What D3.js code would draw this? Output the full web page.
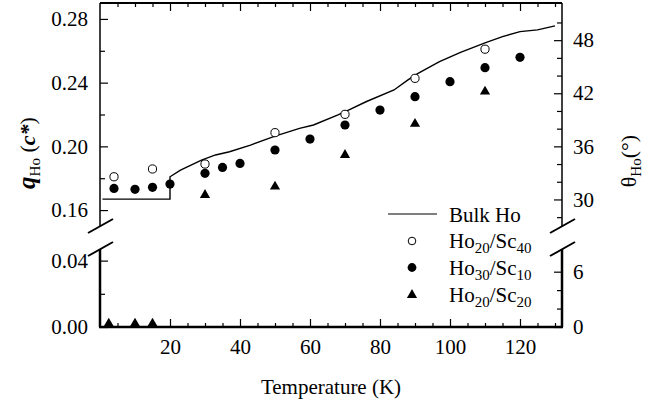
<!DOCTYPE html>
<html>
<head>
<meta charset="utf-8">
<script src="https://cdn.jsdelivr.net/npm/d3@7"></script>
</head>
<body style="margin:0">
<script>
// Bulk Ho line (temperature K, q in c*)
const bulkT = [0.7, 20, 20, 23, 29, 33, 37, 43, 50, 57, 61, 68, 71, 76, 84, 88, 91, 97, 103, 110, 115, 120, 125, 130];
const bulkQ = [0.1669, 0.1669, 0.1809, 0.1851, 0.1914, 0.1946, 0.1966, 0.2008, 0.2064, 0.2113, 0.2134, 0.2197, 0.2228, 0.2280, 0.2354, 0.2417, 0.2460, 0.2532, 0.2590, 0.2650, 0.2689, 0.2720, 0.2731, 0.2756];

// Ho20/Sc40 (open circles)
const sc40T = [4, 15, 30, 50, 70, 90, 110];
const sc40Q = [0.1809, 0.1858, 0.1889, 0.2086, 0.2201, 0.2427, 0.2610];

// Ho30/Sc10 (filled circles)
const sc10T = [4, 10, 15, 20, 30, 35, 40, 50, 60, 70, 80, 90, 100, 110, 120];
const sc10Q = [0.1736, 0.1730, 0.1743, 0.1763, 0.1831, 0.1868, 0.1893, 0.1977, 0.2046, 0.2134, 0.2228, 0.2312, 0.2406, 0.2494, 0.2559];

// Ho20/Sc20 (triangles)
const sc20T = [2.5, 10, 15, 30, 50, 70, 90, 110];
const sc20Q = [0.002, 0.002, 0.002, 0.1695, 0.1747, 0.1946, 0.2141, 0.2344];

// ticks
const xMajor = [20, 40, 60, 80, 100, 120];
const xMinor = [5, 10, 15, 25, 30, 35, 45, 50, 55, 65, 70, 75, 85, 90, 95, 105, 110, 115, 125, 130];
const qUpMajor = [0.16, 0.20, 0.24, 0.28];
const qUpMinor = [0.18, 0.22, 0.26];
const qLowMajor = [0.00, 0.04];
const qLowMinor = [0.02];
const thUpMajor = [30, 36, 42, 48];
const thUpMinor = [28, 32, 34, 38, 40, 44, 46, 50];
const thLowMajor = [0, 6];
const thLowMinor = [2, 4];

const FONT = "Liberation Serif";
const W = 657, H = 407;
const mLeft = 100, mRight = 562, mTop = 3, mBottom = 327;
const upBottom = 226, lowTop = 249;

const svg = d3.select("body").append("svg")
  .attr("width", W).attr("height", H)
  .style("display", "block");

const x = d3.scaleLinear().domain([0, 132]).range([mLeft, mRight]);
const yUp = d3.scaleLinear().domain([0.15, 0.29]).range([upBottom, mTop]);
const yLow = d3.scaleLinear().domain([0, 0.047]).range([mBottom, lowTop]);
// theta = 180 * q
const tUp = d3.scaleLinear().domain([0.15 * 180, 0.29 * 180]).range([upBottom, mTop]);
const tLow = d3.scaleLinear().domain([0, 0.047 * 180]).range([mBottom, lowTop]);

const y = q => q > 0.1 ? yUp(q) : yLow(q);

// serif text helper, same way for every label
const serif = (sel, size) => sel.attr("font-family", FONT).style("font-size", size + "px");

// frame
const frame = svg.append("g").attr("stroke", "#000").attr("fill", "none");
frame.append("line").attr("x1", mLeft).attr("x2", mRight).attr("y1", mTop).attr("y2", mTop).attr("stroke-width", 2);
frame.append("line").attr("x1", mLeft - 1).attr("x2", mRight + 1).attr("y1", mBottom).attr("y2", mBottom).attr("stroke-width", 2.5);
frame.append("line").attr("x1", mLeft).attr("x2", mLeft).attr("y1", mTop).attr("y2", upBottom).attr("stroke-width", 1.5);
frame.append("line").attr("x1", mLeft).attr("x2", mLeft).attr("y1", lowTop).attr("y2", mBottom).attr("stroke-width", 2.5);
frame.append("line").attr("x1", mRight).attr("x2", mRight).attr("y1", mTop).attr("y2", upBottom).attr("stroke-width", 1.5);
frame.append("line").attr("x1", mRight).attr("x2", mRight).attr("y1", lowTop).attr("y2", mBottom).attr("stroke-width", 2.5);

// axis break marks
[[mLeft, upBottom], [mLeft, lowTop], [mRight, upBottom], [mRight, lowTop]].forEach(([cx, cy]) => {
  frame.append("line")
    .attr("x1", cx - 12).attr("y1", cy + 7)
    .attr("x2", cx + 13).attr("y2", cy - 7)
    .attr("stroke-width", 2);
});

function styleAxis(g) {
  g.attr("font-family", null).attr("font-size", null);
  g.select(".domain").remove();
  g.selectAll(".tick line").attr("stroke", "#000").attr("stroke-width", 1.2);
  g.selectAll("text").attr("fill", "#000").call(serif, 21);
}

// x axes (bottom labels, top ticks only)
svg.append("g").attr("transform", `translate(0,${mBottom})`)
  .call(d3.axisBottom(x).tickValues(xMajor).tickSize(-8).tickPadding(12).tickFormat(d3.format("d")))
  .call(styleAxis);
svg.append("g").attr("transform", `translate(0,${mBottom})`)
  .call(d3.axisBottom(x).tickValues(xMinor).tickSize(-4).tickFormat(""))
  .call(styleAxis);
svg.append("g").attr("transform", `translate(0,${mTop})`)
  .call(d3.axisTop(x).tickValues(xMajor).tickSize(-8).tickFormat(""))
  .call(styleAxis);
svg.append("g").attr("transform", `translate(0,${mTop})`)
  .call(d3.axisTop(x).tickValues(xMinor).tickSize(-4).tickFormat(""))
  .call(styleAxis);

// left axes
[[yUp, qUpMajor, qUpMinor], [yLow, qLowMajor, qLowMinor]].forEach(([sc, maj, min]) => {
  svg.append("g").attr("transform", `translate(${mLeft},0)`)
    .call(d3.axisLeft(sc).tickValues(maj).tickSize(-8).tickPadding(12).tickFormat(d3.format(".2f")))
    .call(styleAxis);
  svg.append("g").attr("transform", `translate(${mLeft},0)`)
    .call(d3.axisLeft(sc).tickValues(min).tickSize(-5).tickFormat(""))
    .call(styleAxis);
});

// right axes (theta)
[[tUp, thUpMajor, thUpMinor], [tLow, thLowMajor, thLowMinor]].forEach(([sc, maj, min]) => {
  svg.append("g").attr("transform", `translate(${mRight},0)`)
    .call(d3.axisRight(sc).tickValues(maj).tickSize(-8).tickPadding(11).tickFormat(d3.format("d")))
    .call(styleAxis);
  svg.append("g").attr("transform", `translate(${mRight},0)`)
    .call(d3.axisRight(sc).tickValues(min).tickSize(-5).tickFormat(""))
    .call(styleAxis);
});

// bulk line
const bulk = bulkT.map((t, i) => [t, bulkQ[i]]);
svg.append("path")
  .datum(bulk)
  .attr("fill", "none").attr("stroke", "#000").attr("stroke-width", 1.4)
  .attr("d", d3.line().x(d => x(d[0])).y(d => y(d[1])));

// markers
const tri = d3.symbol().type(d3.symbolTriangle).size(45);

svg.append("g").selectAll("path")
  .data(sc20T.map((t, i) => [t, sc20Q[i]]))
  .join("path")
  .attr("transform", d => `translate(${x(d[0])},${y(d[1])})`)
  .attr("d", tri).attr("fill", "#000");

svg.append("g").selectAll("circle")
  .data(sc10T.map((t, i) => [t, sc10Q[i]]))
  .join("circle")
  .attr("cx", d => x(d[0])).attr("cy", d => y(d[1]))
  .attr("r", 4.6).attr("fill", "#000");

svg.append("g").selectAll("circle")
  .data(sc40T.map((t, i) => [t, sc40Q[i]]))
  .join("circle")
  .attr("cx", d => x(d[0])).attr("cy", d => y(d[1]))
  .attr("r", 4.1).attr("fill", "#fff").attr("stroke", "#000").attr("stroke-width", 1);

// legend
const leg = svg.append("g");
leg.append("line").attr("x1", 388).attr("x2", 437).attr("y1", 214).attr("y2", 214)
  .attr("stroke", "#000").attr("stroke-width", 1.2);
leg.append("circle").attr("cx", 412).attr("cy", 241).attr("r", 3.8)
  .attr("fill", "#fff").attr("stroke", "#000").attr("stroke-width", 1);
leg.append("circle").attr("cx", 412).attr("cy", 267.5).attr("r", 4.4).attr("fill", "#000");
leg.append("path").attr("transform", "translate(412,295)").attr("d", tri).attr("fill", "#000");

const legLabels = [
  ["Bulk Ho", null, null, null, 221.5],
  ["Ho", "20", "/Sc", "40", 248],
  ["Ho", "30", "/Sc", "10", 274.5],
  ["Ho", "20", "/Sc", "20", 302]
];
legLabels.forEach(([a, s1, b, s2, by]) => {
  const t = leg.append("text").attr("x", 449).attr("y", by).call(serif, 21);
  t.append("tspan").text(a);
  if (s1) {
    t.append("tspan").attr("dy", 5).style("font-size", "15px").text(s1);
    t.append("tspan").attr("dy", -5).text(b);
    t.append("tspan").attr("dy", 5).style("font-size", "15px").text(s2);
  }
});

// axis titles
svg.append("text")
  .attr("x", (mLeft + mRight) / 2).attr("y", 394)
  .attr("text-anchor", "middle")
  .call(serif, 21)
  .text("Temperature (K)");

const yt = svg.append("text")
  .attr("transform", "translate(35,153) rotate(-90)")
  .attr("text-anchor", "middle")
  .call(serif, 22);
yt.append("tspan").attr("font-weight", "bold").attr("font-style", "italic").style("font-size", "25px").text("q");
yt.append("tspan").attr("dy", 5).style("font-size", "15px").text("Ho");
yt.append("tspan").attr("dy", -5).text(" (");
yt.append("tspan").attr("font-weight", "bold").attr("font-style", "italic").text("c*");
yt.append("tspan").text(")");

const rt = svg.append("text")
  .attr("transform", "translate(636,161) rotate(-90)")
  .attr("text-anchor", "middle")
  .call(serif, 22);
rt.append("tspan").text("θ");
rt.append("tspan").attr("dy", 5).style("font-size", "15px").text("Ho");
rt.append("tspan").attr("dy", -5).text("(°)");
</script>
</body>
</html>
